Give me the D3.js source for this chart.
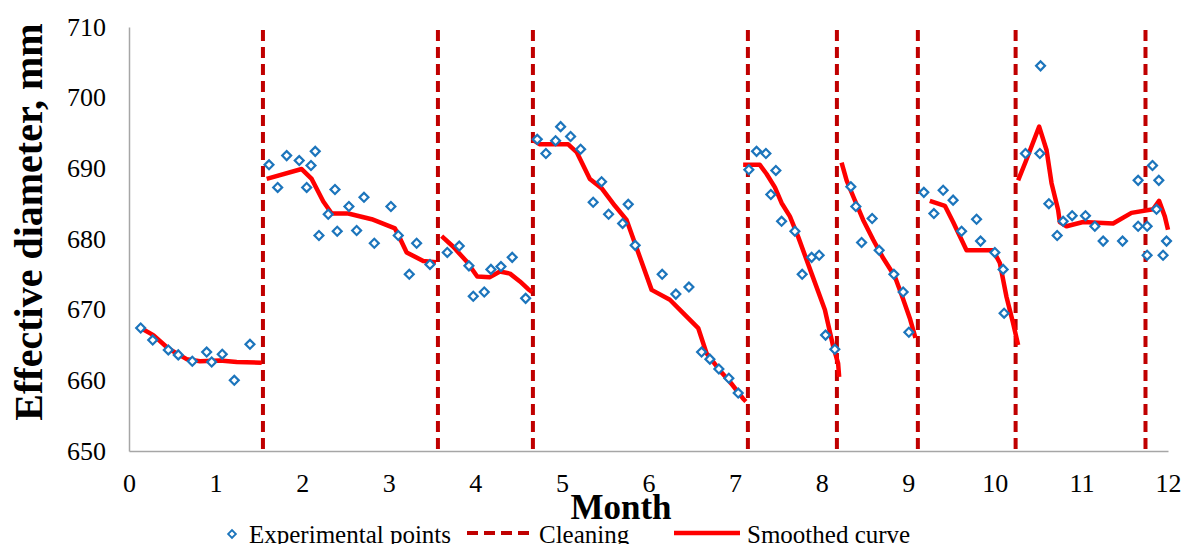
<!DOCTYPE html>
<html>
<head>
<meta charset="utf-8">
<script src="https://cdn.jsdelivr.net/npm/d3@7"></script>
<style>
  body { margin: 0; background: #fff; }
  svg { display: block; font-family: "Liberation Serif", "Times New Roman", serif; }
</style>
</head>
<body>
<div id="chart"></div>
<script>
// Experimental points [month, effective diameter in mm]
const experimentalPoints = [
  [0.135, 667.4], [0.274, 665.7], [0.454, 664.3], [0.569, 663.6], [0.731, 662.7],
  [0.897, 664.0], [0.955, 662.6], [1.077, 663.7], [1.216, 660.0], [1.397, 665.1],
  [1.617, 690.5], [1.717, 687.3], [1.821, 691.8], [1.966, 691.1], [2.052, 687.3],
  [2.102, 690.4], [2.151, 692.4], [2.194, 680.5], [2.301, 683.5], [2.379, 687.0],
  [2.405, 681.1], [2.540, 684.6], [2.629, 681.2], [2.714, 685.9], [2.833, 679.4],
  [3.025, 684.6], [3.110, 680.5], [3.237, 675.0], [3.322, 679.4], [3.476, 676.4],
  [3.676, 678.1], [3.814, 679.0], [3.926, 676.2], [3.976, 671.9], [4.103, 672.5],
  [4.180, 675.7], [4.296, 676.1], [4.426, 677.4], [4.581, 671.6],
  [4.715, 694.1], [4.815, 692.1], [4.927, 693.9], [4.985, 695.9], [5.100, 694.5],
  [5.216, 692.7], [5.361, 685.2], [5.458, 688.1], [5.539, 683.5], [5.701, 682.2],
  [5.766, 684.9], [5.846, 679.1], [6.158, 675.0], [6.316, 672.2], [6.467, 673.2],
  [6.613, 664.0], [6.709, 663.0], [6.813, 661.6], [6.928, 660.3], [7.036, 658.2],
  [7.159, 689.8], [7.248, 692.4], [7.356, 692.1], [7.413, 686.3], [7.471, 689.7],
  [7.537, 682.5], [7.691, 681.1], [7.775, 675.0], [7.884, 677.4], [7.971, 677.7],
  [8.045, 666.4], [8.152, 664.4],
  [8.337, 687.4], [8.395, 684.6], [8.461, 679.5], [8.583, 682.9], [8.664, 678.4],
  [8.834, 675.0], [8.941, 672.5], [9.007, 666.8],
  [9.180, 686.6], [9.296, 683.6], [9.403, 686.9], [9.518, 685.5], [9.616, 681.1],
  [9.789, 682.8], [9.835, 679.7], [10.000, 678.1], [10.096, 675.7], [10.107, 669.5],
  [10.354, 692.1], [10.520, 692.1], [10.528, 704.5], [10.624, 685.0], [10.720, 680.5],
  [10.789, 682.5], [10.893, 683.3], [11.047, 683.3], [11.155, 681.8], [11.251, 679.7],
  [11.475, 679.7], [11.655, 688.3], [11.655, 681.8], [11.759, 681.8], [11.759, 677.7],
  [11.821, 690.4], [11.867, 684.2], [11.894, 688.3], [11.943, 677.7], [11.983, 679.7]
];

// Smoothed curve, one piece between each pair of cleanings
const smoothedSegments = [
  [[0.135, 667.4], [0.281, 666.4], [0.454, 664.5], [0.666, 663.0], [0.82, 662.7],
   [1.05, 662.8], [1.244, 662.6], [1.532, 662.5]],
  [[1.590, 688.5], [1.994, 689.9], [2.110, 688.5], [2.244, 685.3], [2.341, 683.6],
   [2.532, 683.6], [2.803, 682.8], [3.072, 681.5], [3.121, 680.3], [3.207, 678.1],
   [3.398, 676.9], [3.545, 676.7]],
  [[3.611, 680.4], [3.745, 678.9], [3.900, 676.8], [4.022, 674.7], [4.169, 674.6],
   [4.284, 675.4], [4.400, 675.1], [4.515, 674.0], [4.611, 672.9], [4.654, 672.5]],
  [[4.669, 694.0], [4.746, 693.4], [5.073, 693.4], [5.170, 692.3], [5.323, 688.5],
   [5.458, 687.2], [5.612, 684.7], [5.747, 682.7], [5.843, 679.4], [6.036, 672.8],
   [6.247, 671.4], [6.401, 669.5], [6.574, 667.4], [6.671, 663.8], [6.824, 661.4],
   [6.940, 659.8], [7.093, 657.4], [7.125, 657.0]],
  [[7.093, 690.5], [7.286, 690.5], [7.364, 689.2], [7.460, 687.3], [7.537, 685.1],
   [7.633, 683.2], [7.729, 680.3], [7.884, 675.1], [8.037, 670.0], [8.133, 664.8],
   [8.190, 662.4], [8.202, 660.5]],
  [[8.230, 690.8], [8.288, 688.3], [8.372, 685.8], [8.479, 682.7], [8.595, 679.9],
   [8.710, 677.3], [8.845, 674.7], [8.923, 672.1], [9.018, 668.8], [9.083, 666.0]],
  [[9.249, 685.4], [9.423, 684.7], [9.518, 682.4], [9.673, 678.4], [9.980, 678.4],
   [10.058, 676.6], [10.135, 671.8], [10.211, 668.1], [10.269, 665.0]],
  [[10.269, 688.3], [10.358, 691.0], [10.512, 695.9], [10.597, 692.6], [10.655, 687.9],
   [10.731, 684.1], [10.750, 682.4], [10.828, 681.8], [11.020, 682.4], [11.366, 682.2],
   [11.578, 683.7], [11.828, 684.2], [11.897, 685.4], [11.963, 683.2], [12.0, 681.3]]
];

// Months at which cleaning happened
const cleaningMonths = [1.547, 3.568, 4.665, 7.148, 8.176, 9.111, 10.24, 11.74];

const monthTicks = [0, 1, 2, 3, 4, 5, 6, 7, 8, 9, 10, 11, 12];
const diameterTicks = [650, 660, 670, 680, 690, 700, 710];

const legendLabels = ["Experimental points", "Cleaning", "Smoothed curve"];

const pointColor = "#1c75bc";
const curveColor = "#ff0000";
const cleaningColor = "#c00000";
const axisColor = "#a6a6a6";

const dimensions = {
  width: 1186,
  height: 544,
  margin: {top: 27, right: 18, bottom: 93, left: 129}
};
dimensions.boundedWidth = dimensions.width - dimensions.margin.left - dimensions.margin.right;
dimensions.boundedHeight = dimensions.height - dimensions.margin.top - dimensions.margin.bottom;

const wrapper = d3.select("#chart")
  .append("svg")
  .attr("width", dimensions.width)
  .attr("height", dimensions.height);

const bounds = wrapper.append("g")
  .attr("transform", `translate(${dimensions.margin.left},${dimensions.margin.top})`);

const xScale = d3.scaleLinear()
  .domain([0, 12])
  .range([0, dimensions.boundedWidth]);

const yScale = d3.scaleLinear()
  .domain([650, 710])
  .range([dimensions.boundedHeight, 0]);

// Axes
const yAxis = bounds.append("g")
  .call(d3.axisLeft(yScale).tickValues(diameterTicks).tickSize(0).tickPadding(23));
const xAxis = bounds.append("g")
  .attr("transform", `translate(0,${dimensions.boundedHeight})`)
  .call(d3.axisBottom(xScale).tickValues(monthTicks).tickSize(0).tickPadding(23));

[xAxis, yAxis].forEach(axis => {
  axis.select(".domain").attr("stroke", axisColor).attr("stroke-width", 1.5);
  axis.selectAll("text")
    .attr("fill", "#000")
    .style("font-family", "'Liberation Serif', 'Times New Roman', serif")
    .style("font-size", "26px");
});

// Cleaning lines
bounds.append("g")
  .selectAll("line")
  .data(cleaningMonths)
  .join("line")
  .attr("x1", d => xScale(d))
  .attr("x2", d => xScale(d))
  .attr("y1", yScale(710) + 3)
  .attr("y2", yScale(650))
  .attr("stroke", cleaningColor)
  .attr("stroke-width", 4)
  .attr("stroke-dasharray", "11,6");

// Smoothed curve
const lineGenerator = d3.line()
  .x(d => xScale(d[0]))
  .y(d => yScale(d[1]));

bounds.append("g")
  .selectAll("path")
  .data(smoothedSegments)
  .join("path")
  .attr("d", lineGenerator)
  .attr("fill", "none")
  .attr("stroke", curveColor)
  .attr("stroke-width", 4.5)
  .attr("stroke-linejoin", "round");

// Experimental points as diamonds
const diamond = d3.symbol().type(d3.symbolSquare).size(40);
bounds.append("g")
  .selectAll("path")
  .data(experimentalPoints)
  .join("path")
  .attr("d", diamond)
  .attr("transform", d => `translate(${xScale(d[0])},${yScale(d[1])}) rotate(45)`)
  .attr("fill", "#fff")
  .attr("stroke", pointColor)
  .attr("stroke-width", 2.2);

// Axis titles
wrapper.append("text")
  .attr("transform", "translate(42,222) rotate(-90)")
  .attr("text-anchor", "middle")
  .style("font-size", "40px")
  .style("font-weight", "bold")
  .text("Effective diameter, mm");

wrapper.append("text")
  .attr("x", 621)
  .attr("y", 519)
  .attr("text-anchor", "middle")
  .style("font-size", "35px")
  .style("font-weight", "bold")
  .text("Month");

// Legend
const legend = wrapper.append("g").attr("transform", "translate(0,533)");
legend.append("path")
  .attr("d", d3.symbol().type(d3.symbolSquare).size(30))
  .attr("transform", "translate(232,1) rotate(45)")
  .attr("fill", "#fff")
  .attr("stroke", pointColor)
  .attr("stroke-width", 1.8);
legend.append("line")
  .attr("x1", 467).attr("x2", 532)
  .attr("stroke", cleaningColor)
  .attr("stroke-width", 4)
  .attr("stroke-dasharray", "11,6");
legend.append("line")
  .attr("x1", 674).attr("x2", 740)
  .attr("stroke", curveColor)
  .attr("stroke-width", 4.5);
legend.selectAll("text")
  .data(legendLabels)
  .join("text")
  .attr("x", (d, i) => [249, 539, 747][i])
  .attr("y", 10)
  .style("font-size", "25px")
  .text(d => d);
</script>
</body>
</html>
